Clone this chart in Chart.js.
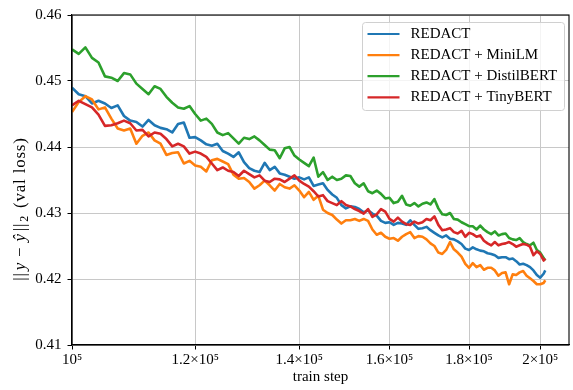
<!DOCTYPE html>
<html><head><meta charset="utf-8">
<script src="https://cdn.jsdelivr.net/npm/chart.js@4.4.1/dist/chart.umd.min.js"></script>
<style>html,body{margin:0;padding:0;background:#fff;}#wrap{width:573px;height:390px;}</style>
</head><body><div id="wrap"><canvas id="c" width="573" height="390"></canvas></div>
<script>
// train steps, in thousands
const stepsK = [100,101,102,103,104,105,106,107,108,109,110,111,112,113,114,115,116,117,118,119,
120,121,122,123,124,125,126,127,128,129,130,131,132,133,134,135,136,137,138,139,
140,141,142,143,144,145,146,147,148,149,150,151,152,153,154,155,156,157,158,159,
160,161,162,163,164,165,166,167,168,169,170,171,172,173,174,175,176,177,178,179,
180,181,182,183,184,185,186,187,188,189,190,191,192,193,194,195,196,197,198,199,200,201,201.5];

const redact = [.4490,.4480,.4477,.4466,.4470,.4466,.4459,.4463,.4447,.4440,
.4438,.4431,.4441,.4433,.4429,.4427,.4422,.4435,.4437,.4414,
.4415,.4410,.4404,.4402,.4405,.4394,.4390,.4385,.4392,.4377,
.4368,.4364,.4362,.4376,.4365,.4370,.4360,.4358,.4355,.4352,
.4354,.4351,.4354,.4341,.4343,.4345,.4335,.4328,.4323,.4312,
.4307,.4310,.4309,.4306,.4301,.4304,.4299,.4296,.4288,.4285,
.4286,.4282,.4285,.4284,.4282,.4289,.4282,.4276,.4277,.4279,
.4274,.4270,.4266,.4263,.4266,.4261,.4260,.4257,.4253,.4246,
.4244,.4248,.4245,.4243,.4242,.4239,.4238,.4236,.4232,.4233,
.4233,.4230,.4231,.4227,.4222,.4223,.4221,.4218,.4213,.4206,
.4202,.4208,.4213];

const miniLM = [.4453,.4468,.4477,.4472,.4457,.4460,.4443,.4428,.4425,.4428,
.4405,.4417,.4422,.4410,.4405,.4388,.4391,.4392,.4375,.4379,
.4372,.4370,.4363,.4380,.4382,.4378,.4374,.4358,.4352,.4353,
.4347,.4337,.4342,.4349,.4342,.4334,.4344,.4339,.4337,.4342,
.4334,.4324,.4332,.4320,.4326,.4305,.4300,.4297,.4290,.4284,
.4289,.4289,.4291,.4288,.4291,.4288,.4275,.4267,.4270,.4264,
.4261,.4262,.4258,.4264,.4268,.4271,.4262,.4265,.4264,.4260,
.4254,.4250,.4240,.4238,.4244,.4256,.4245,.4240,.4234,.4223,
.4217,.4224,.4218,.4221,.4214,.4217,.4217,.4213,.4205,.4209,
.4210,.4192,.4207,.4206,.4210,.4212,.4205,.4201,.4197,.4192,
.4192,.4194,.4198];

const distilBERT = [.4548,.4541,.4551,.4535,.4528,.4507,.4505,.4500,.4512,.4510,
.4496,.4488,.4480,.4492,.4488,.4476,.4467,.4460,.4458,.4462,
.4450,.4440,.4443,.4435,.4422,.4418,.4421,.4413,.4405,.4414,
.4412,.4416,.4410,.4403,.4396,.4395,.4383,.4398,.4400,.4387,
.4381,.4376,.4371,.4384,.4355,.4362,.4350,.4355,.4350,.4352,
.4357,.4356,.4345,.4340,.4345,.4333,.4330,.4334,.4329,.4322,
.4323,.4315,.4317,.4326,.4313,.4311,.4315,.4310,.4314,.4316,
.4313,.4321,.4307,.4298,.4297,.4300,.4291,.4290,.4286,.4283,
.4280,.4280,.4275,.4281,.4275,.4271,.4268,.4272,.4266,.4268,
.4269,.4262,.4260,.4259,.4262,.4256,.4253,.4251,.4255,.4244,
.4240,.4232,.4228];

const tinyBERT = [.4463,.4470,.4465,.4460,.4449,.4432,.4433,.4436,.4440,.4436,
.4425,.4426,.4416,.4422,.4420,.4412,.4401,.4405,.4401,.4390,
.4393,.4390,.4385,.4375,.4365,.4369,.4364,.4362,.4356,.4364,
.4359,.4354,.4357,.4349,.4347,.4352,.4351,.4347,.4352,.4357,
.4349,.4344,.4340,.4333,.4325,.4327,.4318,.4315,.4312,.4318,
.4312,.4310,.4306,.4303,.4299,.4306,.4294,.4298,.4306,.4302,
.4291,.4287,.4293,.4287,.4283,.4282,.4287,.4284,.4286,.4291,
.4289,.4295,.4282,.4274,.4275,.4277,.4271,.4269,.4273,.4264,
.4270,.4268,.4264,.4266,.4258,.4254,.4251,.4256,.4251,.4253,
.4254,.4256,.4253,.4249,.4251,.4253,.4252,.4249,.4236,.4242,
.4238,.4228,.4231];

const seriesLabels = ['REDACT', 'REDACT + MiniLM', 'REDACT + DistilBERT', 'REDACT + TinyBERT'];
const seriesColors = ['#1f77b4', '#ff7f0e', '#2ca02c', '#d62728'];
const xTickValues = [100000, 120000, 140000, 160000, 180000, 200000];
const xTickLabels = ['10\u2075', '1.2\u00d710\u2075', '1.4\u00d710\u2075', '1.6\u00d710\u2075', '1.8\u00d710\u2075', '2\u00d710\u2075'];
const yTickValues = [0.41, 0.42, 0.43, 0.44, 0.45, 0.46];
const yTickLabels = ['0.41', '0.42', '0.43', '0.44', '0.45', '0.46'];

const FONT = "'Liberation Serif', 'Times New Roman', serif";
Chart.defaults.font.family = FONT;
Chart.defaults.font.size = 15;
Chart.defaults.color = '#000';

const series = [redact, miniLM, distilBERT, tinyBERT];
const datasets = series.map((vals, i) => ({
  label: seriesLabels[i],
  data: vals.map((v, j) => ({x: stepsK[j] * 1000, y: v})),
  borderColor: seriesColors[i],
  backgroundColor: seriesColors[i],
  borderWidth: 2.6,
  borderJoinStyle: 'round',
  pointRadius: 0,
  tension: 0,
  order: series.length - i
}));

const decor = {
  id: 'decor',
  afterDraw(chart) {
    const {ctx, chartArea: ca} = chart;
    ctx.save();
    // full frame
    ctx.strokeStyle = '#000'; ctx.lineWidth = 1.1;
    ctx.strokeRect(ca.left, ca.top, ca.right - ca.left, ca.bottom - ca.top);
    // legend
    const w = 202, h = 88;
    const x0 = Math.round(ca.right - 5 - w) + 0.5, y0 = Math.round(ca.top + 7) + 0.5;
    ctx.beginPath();
    ctx.roundRect(x0, y0, w, h, 3);
    ctx.fillStyle = 'rgba(255,255,255,0.8)'; ctx.fill();
    ctx.strokeStyle = '#d0d0d0'; ctx.lineWidth = 1; ctx.stroke();
    ctx.font = '15px ' + FONT; ctx.textBaseline = 'middle'; ctx.textAlign = 'left';
    chart.data.datasets.forEach((ds, i) => {
      const cy = y0 + 11.5 + i * 21.1;
      ctx.strokeStyle = ds.borderColor; ctx.lineWidth = 2.2;
      ctx.beginPath(); ctx.moveTo(x0 + 5, cy); ctx.lineTo(x0 + 37, cy); ctx.stroke();
      ctx.fillStyle = '#000';
      ctx.fillText(ds.label, x0 + 48, cy);
    });
    // y-axis title with mixed styles
    const F = '17px ' + FONT, FI = 'italic 17px ' + FONT;
    const segs = [
      {t: '||', f: F, dy: 0, gap: 2},
      {t: 'y', f: FI, dy: 0, gap: 5},
      {t: '\u2212', f: F, dy: 0, gap: 5},
      {t: '\u0177', f: FI, dy: 0, gap: 2},
      {t: '||', f: F, dy: 0, gap: 1},
      {t: '2', f: '12px ' + FONT, dy: 3.5, gap: 7},
      {t: '(val loss)', f: F, dy: 0, gap: 0}
    ];
    ctx.letterSpacing = '0.8px';
    let total = 0;
    segs.forEach(s => { ctx.font = s.f; s.w = ctx.measureText(s.t).width; total += s.w + s.gap; });
    ctx.translate(21, 209);
    ctx.rotate(-Math.PI / 2);
    ctx.fillStyle = '#000'; ctx.textBaseline = 'middle';
    let x = -total / 2;
    segs.forEach(s => { ctx.font = s.f; ctx.fillText(s.t, x, s.dy); x += s.w + s.gap; });
    ctx.restore();
  }
};

const axisGrid = {color: '#c8c8c8', lineWidth: 1, tickColor: '#000', tickLength: 4.5, tickWidth: 1};

new Chart(document.getElementById('c'), {
  type: 'line',
  data: {datasets},
  options: {
    responsive: false,
    animation: false,
    devicePixelRatio: 1,
    layout: {padding: {left: 0, right: 4, top: 14, bottom: 0}},
    plugins: {legend: {display: false}, tooltip: {enabled: false}},
    scales: {
      x: {
        type: 'logarithmic', min: 100000, max: 208700,
        afterBuildTicks: s => { s.ticks = xTickValues.map(v => ({value: v})); },
        afterFit: s => { s.height = 45; },
        ticks: {callback: (v, i) => xTickLabels[i], padding: 2, maxRotation: 0, autoSkip: false, color: '#000'},
        grid: axisGrid,
        border: {display: true, color: '#000', width: 1.1},
        title: {display: true, text: 'train step', color: '#000', padding: {top: 0, bottom: 4}}
      },
      y: {
        type: 'linear', min: 0.41, max: 0.46,
        afterBuildTicks: s => { s.ticks = yTickValues.map(v => ({value: v})); },
        afterFit: s => { s.width = 72; },
        ticks: {callback: (v, i) => yTickLabels[i], padding: 6, color: '#000'},
        grid: axisGrid,
        border: {display: true, color: '#000', width: 1.1}
      }
    }
  },
  plugins: [decor]
});
</script>
</body></html>
